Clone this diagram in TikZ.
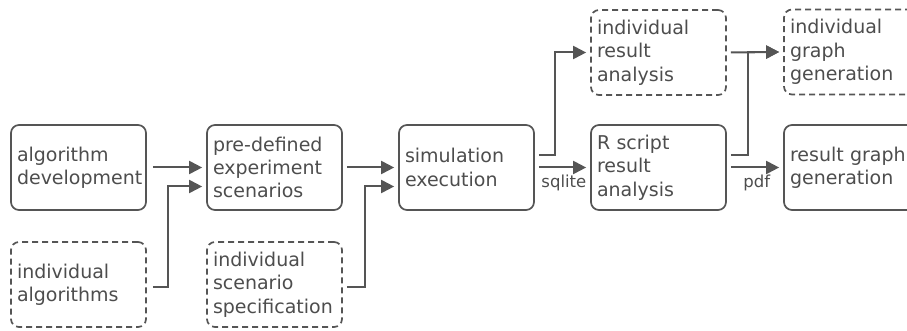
\documentclass[tikz,border=0pt]{standalone}
\usepackage{fontspec}
\setmainfont{DejaVu Sans}
\usetikzlibrary{arrows.meta}
\definecolor{ln}{HTML}{555555}
\definecolor{tx}{HTML}{4D4D4D}
\begin{document}
\begin{tikzpicture}[x=1pt,y=-1pt,
 box/.style={draw=ln, line width=1.7pt, rounded corners=8pt, minimum width=135pt, minimum height=85pt, text width=123pt, inner xsep=6pt, align=left, text=tx, font=\fontsize{19}{23.3}\selectfont},
 dbox/.style={box, dash pattern=on 6pt off 4pt},
 arr/.style={draw=ln, line width=2pt, -{Triangle[length=13pt,width=13pt]}},
 lab/.style={text=tx, font=\fontsize{16.5}{19}\selectfont, inner sep=0pt}]
\useasboundingbox (0,0) rectangle (907,331);
\clip (0,0) rectangle (907,331);
\node[box] (algdev) at (78.5,167.5) {algorithm\\development};
\node[box] (predef) at (274.5,167.5) {pre-defined\\experiment\\scenarios};
\node[dbox] (indalg) at (78.5,284.5) {individual\\algorithms};
\node[dbox] (indscen) at (274.5,284.5) {individual\\scenario\\specification};
\node[box] (sim) at (466.5,167.5) {simulation\\execution};
\node[box] (rscript) at (658.5,167.5) {R script\\result\\analysis};
\node[dbox] (indres) at (658.5,52.5) {individual\\result\\analysis};
\node[dbox] (indgraph) at (851.5,52) {individual\\graph\\generation};
\node[box] (resgraph) at (851.5,167.5) {result graph\\generation};

\draw[arr] ([xshift=6pt]algdev.east) -- ([xshift=-4pt]predef.west);
\draw[arr] ([xshift=6pt,yshift=-2.5pt]indalg.east) -- ++(15,0) |- ([xshift=-4pt,yshift=-19pt]predef.west);
\draw[arr] ([xshift=4pt]predef.east) -- ([xshift=-4pt]sim.west);
\draw[arr] ([xshift=4pt,yshift=-2.5pt]indscen.east) -- ++(18,0) |- ([xshift=-4pt,yshift=-19pt]sim.west);
\draw[arr] ([xshift=4pt,yshift=12.5pt]sim.east) -- ++(16,0) |- ([xshift=-4pt]indres.west);
\draw[arr] ([xshift=4pt]sim.east) -- ([xshift=-4pt]rscript.west);
\node[lab] (sqlite) at ([xshift=29pt,yshift=-15.5pt]sim.east) {sqlite};
\draw[arr] ([xshift=4pt]indres.east) -- ([xshift=-4pt]indgraph.west);
\draw[arr] ([xshift=4pt,yshift=12.5pt]rscript.east) -- ++(17,0) |- ([xshift=-4pt]indgraph.west);
\draw[arr] ([xshift=4pt]rscript.east) -- ([xshift=-4pt]resgraph.west);
\node[lab] (pdf) at ([xshift=30pt,yshift=-15.5pt]rscript.east) {pdf};
\end{tikzpicture}
\end{document}
